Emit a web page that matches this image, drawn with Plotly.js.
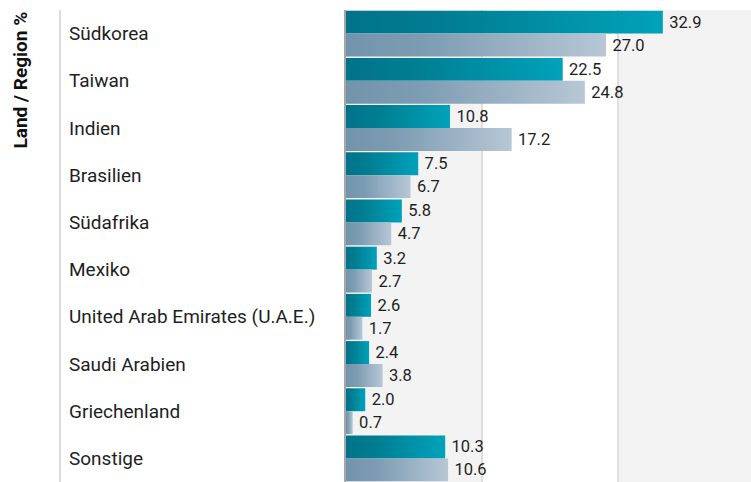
<!DOCTYPE html>
<html>
<head>
<meta charset="utf-8">
<script src="https://cdn.plot.ly/plotly-3.0.1.min.js"></script>
<style>
  html, body { margin: 0; padding: 0; background: #ffffff; }
  #chart { width: 751px; height: 482px; }
</style>
</head>
<body>
<div id="chart"></div>
<script>
const categories = [
  "Südkorea", "Taiwan", "Indien", "Brasilien", "Südafrika",
  "Mexiko", "United Arab Emirates (U.A.E.)", "Saudi Arabien", "Griechenland", "Sonstige"
];
const seriesFund = [32.9, 22.5, 10.8, 7.5, 5.8, 3.2, 2.6, 2.4, 2.0, 10.3];
const seriesBenchmark = [27.0, 24.8, 17.2, 6.7, 4.7, 2.7, 1.7, 3.8, 0.7, 10.6];
const gridValues = [14.1, 28.2];
const axisMax = 42.05;
const axisTitle = "Land / Region %";

const FONT = "Roboto, 'Noto Sans', sans-serif";

const traces = [
  {
    type: "bar", orientation: "h", name: "Fonds",
    y: categories, x: seriesFund,
    marker: { color: "#008a9f", line: { width: 0 } },
    text: seriesFund, texttemplate: "\u2009%{x:.1f}", textposition: "outside",
    cliponaxis: false, constraintext: "none",
    textfont: { family: FONT, size: 16.5, color: "#1e1e1e" },
    hoverinfo: "skip"
  },
  {
    type: "bar", orientation: "h", name: "Benchmark",
    y: categories, x: seriesBenchmark,
    marker: { color: "#96adc2", line: { width: 0 } },
    text: seriesBenchmark, texttemplate: "\u2009%{x:.1f}", textposition: "outside",
    cliponaxis: false, constraintext: "none",
    textfont: { family: FONT, size: 16.5, color: "#1e1e1e" },
    hoverinfo: "skip"
  }
];

const plotLeft = 346, plotWidth = 751 - 346;
const px = v => (v - plotLeft) / plotWidth;

const annotations = categories.map(c => ({
  xref: "paper", yref: "y", x: px(67), y: c,
  xanchor: "left", yanchor: "middle", showarrow: false,
  text: c, font: { family: FONT, size: 19, color: "#1e1e1e" }
}));
annotations.push({
  xref: "paper", yref: "paper", x: px(20), y: 1.0,
  xanchor: "center", yanchor: "top", showarrow: false, textangle: -90,
  text: "<b>" + axisTitle + "</b>",
  font: { family: FONT, size: 19, color: "#111111" }
});

const layout = {
  width: 751, height: 482,
  margin: { l: plotLeft, r: 0, t: 10, b: 0, pad: 0 },
  paper_bgcolor: "#ffffff", plot_bgcolor: "#ffffff",
  barmode: "group", bargap: 0.03, bargroupgap: 0,
  showlegend: false,
  xaxis: {
    range: [0, axisMax], tickvals: gridValues, showticklabels: false,
    showgrid: true, gridcolor: "#dedede", gridwidth: 2,
    zeroline: false, showline: false, ticks: "", fixedrange: true
  },
  yaxis: {
    type: "category", autorange: "reversed", showticklabels: false,
    showline: true, linecolor: "#a6a6a6", linewidth: 2,
    showgrid: false, zeroline: false, ticks: "", fixedrange: true
  },
  shapes: [
    { type: "rect", xref: "x", yref: "paper", x0: 0, x1: gridValues[0], y0: 0, y1: 1,
      fillcolor: "#f3f3f3", line: { width: 0 }, layer: "below" },
    { type: "rect", xref: "x", yref: "paper", x0: gridValues[1], x1: axisMax, y0: 0, y1: 1,
      fillcolor: "#f3f3f3", line: { width: 0 }, layer: "below" },
    { type: "line", xref: "paper", yref: "paper", x0: px(60), x1: px(60), y0: 0, y1: 1,
      line: { color: "#dcdcdc", width: 2 } }
  ],
  annotations: annotations,
  font: { family: FONT }
};

Plotly.newPlot("chart", traces, layout, { staticPlot: true, displayModeBar: false }).then(gd => {
  // apply horizontal gradients to the bars drawn by Plotly
  const svg = gd.querySelector("svg.main-svg");
  const ns = "http://www.w3.org/2000/svg";
  let defs = svg.querySelector("defs");
  if (!defs) { defs = document.createElementNS(ns, "defs"); svg.insertBefore(defs, svg.firstChild); }
  const grads = [
    { id: "gradFund", stops: [["0%", "#00738a"], ["30%", "#007d92"], ["100%", "#00a2ba"]] },
    { id: "gradBench", stops: [["0%", "#7294ab"], ["30%", "#7d9cb2"], ["100%", "#b7c7d5"]] }
  ];
  grads.forEach(g => {
    const lg = document.createElementNS(ns, "linearGradient");
    lg.setAttribute("id", g.id);
    lg.setAttribute("x1", "0"); lg.setAttribute("y1", "0");
    lg.setAttribute("x2", "1"); lg.setAttribute("y2", "0");
    g.stops.forEach(s => {
      const st = document.createElementNS(ns, "stop");
      st.setAttribute("offset", s[0]);
      st.setAttribute("stop-color", s[1]);
      lg.appendChild(st);
    });
    defs.appendChild(lg);
  });
  const traceGroups = gd.querySelectorAll("g.trace.bars");
  traceGroups.forEach((tg, i) => {
    tg.querySelectorAll("g.point path").forEach(p => {
      p.style.fill = "url(#" + grads[i].id + ")";
    });
  });
});
</script>
</body>
</html>
